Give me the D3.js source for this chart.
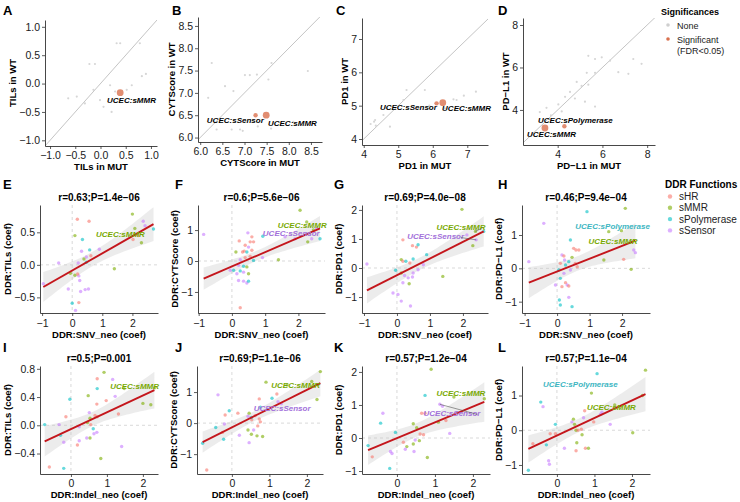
<!DOCTYPE html>
<html><head><meta charset="utf-8">
<script src="https://cdn.jsdelivr.net/npm/d3@7"></script>
<style>body{margin:0;background:#fff}svg text{font-family:"Liberation Sans",Arial,Helvetica,sans-serif}</style>
</head><body><svg id="c" width="740" height="502"></svg>
<script>
// ================= DATA =================
const ddrGroups = ["sHR","sMMR","sPolymerase","sSensor"];
const ddrColors = ["#F8766D","#7CAE00","#00BFC4","#C77CFF"];
const ddrLabelColors = ["#E0655C","#78A800","#3DB6C2","#A270DA"];
const sigLevels = ["None","Significant","(FDR<0.05)"];

// ---- Row 1 (WT vs MUT) ----
const topLetters = ["A","B","C","D"];
const topXLabels = ["TILs in MUT","CYTScore in MUT","PD1 in MUT","PD\u2212L1 in MUT"];
const topYLabels = ["TILs in WT","CYTScore in WT","PD1 in WT","PD\u2212L1 in WT"];
const topTicks = [[-1,-0.5,0,0.5,1],[6,6.5,7,7.5,8,8.5],[4,5,6,7],[4,6,8]];
const topTickFmt = [".1f",".1f","d","d"];
const topXDomains = [[-1.1,1.12],[5.95,8.75],[3.95,7.6],[2.45,8.35]];
const topYDomains = [[-1.1,1.12],[5.9,8.7],[3.82,7.63],[2.35,8.33]];

const grayA = [[0.32,0.71],[0.39,0.71],[0.78,0.71],[-0.22,0.345],[-0.11,0.345],[0.82,0.13],[0.9,0.17],[-0.64,-0.26],[-0.47,-0.23],[-0.01,-0.29],[0.22,-0.5],[0.29,-0.14],[0.52,-0.11],[0.62,-0.03],[0.19,-0.03],[-0.14,-0.11],[-0.31,-0.35],[0.06,-0.41]];
const grayB = [[6.26,7.67],[7.01,7.4],[7.12,7.4],[7.28,7.41],[7.61,7.67],[8.43,7.49],[7.54,7.3],[6.75,7.04],[6.18,6.89],[6.37,6.18],[6.71,6.18],[6.9,6.18],[6.96,6.15],[6.56,7.15],[7.3,6.25],[7.6,6.2],[8.1,6.35]];
const grayC = [[7.25,5.42],[5.24,5.47],[5.77,5.47],[6.6,5.19],[6.35,4.92],[6.69,5.17],[5.15,5.17],[4.57,4.72],[4.33,4.57],[4.76,4.37],[4.66,4.92],[5.44,4.97],[4.2,4.45],[4.3,4.52],[4.35,4.4],[5.9,5.0],[6.9,5.3]];
const grayD = [[5.37,6.55],[5.67,6.4],[5.97,6.48],[6.34,6.32],[7.38,6.4],[7.75,6.17],[5.3,5.75],[5.67,5.75],[6.71,5.78],[7.16,5.7],[4.85,5.32],[5.07,5.13],[5.37,5.19],[4.55,4.85],[4.77,4.54],[5.22,4.39],[5.67,4.16],[4.18,3.93],[4.33,4.62],[4.03,4.26],[3.2,3.9],[3.5,4.1],[3.7,3.75]];
// significant points: [x, y, size(1 small / 2 big)]
const sigA = [[0.39,-0.16,2]];
const sigB = [[7.25,6.5,1],[7.49,6.5,2]];
const sigC = [[6.11,5.07,1],[6.29,5.09,2]];
const sigD = [[3.43,3.15,2],[4.3,3.23,1]];
// labels: [text, x, y]
const labA = [["UCEC:sMMR",0.13,-0.29]];
const labB = [["UCEC:sSensor",6.15,6.38],["UCEC:sMMR",7.53,6.31]];
const labC = [["UCEC:sSensor",4.47,4.96],["UCEC:sMMR",6.27,4.93]];
const labD = [["UCEC:sPolymerase",3.12,3.52],["UCEC:sMMR",2.63,2.87]];

// ---- Rows 2-3 (DDR coefficient correlations) ----
const botLetters = ["E","F","G","H","I","J","K","L"];
const botTitles = ["r=0.63;P=1.4e\u221206","r=0.6;P=5.6e\u221206","r=0.69;P=4.0e\u221208","r=0.46;P=9.4e\u221204",
                   "r=0.5;P=0.001","r=0.69;P=1.1e\u221206","r=0.57;P=1.2e\u221204","r=0.57;P=1.1e\u221204"];
const botYLabels = ["DDR:TILs (coef)","DDR:CYTScore (coef)","DDR:PD1 (coef)","DDR:PD\u2212L1 (coef)"];
const botXLabels = ["DDR:SNV_neo (coef)","DDR:Indel_neo (coef)"];
const botXTicks = [[-1,0,1,2],[-1,0,1,2],[-1,0,1,2],[-1,0,1,2],[0,1,2],[0,1,2],[0,1,2],[0,1,2]];
const botYTicks = [[-0.5,0,0.5],[-1,0,1],[-1,0,1,2],[-1,0,1],[-0.4,0,0.4,0.8],[-1,0,1],[-1,0,1,2],[-1,0,1]];
const botYFmt = [".1f","d","d","d",".1f","d","d","d"];
const botXDomains = [[-1.07,2.85],[-1.02,2.8],[-1.06,2.76],[-1.08,2.86],[-0.86,2.42],[-0.93,2.43],[-0.92,2.45],[-0.93,2.48]];
const botYDomains = [[-0.74,0.92],[-1.68,1.81],[-1.55,2.17],[-1.34,1.9],[-0.69,0.84],[-1.64,1.84],[-1.09,2.18],[-1.26,1.85]];
// linear fit [intercept, slope]
const fitIntercepts = [-0.087,-0.176,-0.248,-0.096,-0.053,-0.138,-0.007,-0.155];
const fitSlopes = [0.264,0.463,0.574,0.384,0.238,0.605,0.477,0.506];

// points: [x, y, groupIndex]
const ptsE = [[-0.96,-0.29,3],[-0.45,0.03,3],[-0.13,-0.37,3],[0,-0.59,2],[0.11,-0.70,3],[0.09,0.45,1],[0.17,0.70,0],[0.56,0.67,0],[0.34,0.39,2],[0.31,0.21,3],[0.58,0.23,2],[0.47,0.12,3],[0.47,0.04,2],[0.62,0.14,0],[0.9,0.24,3],[0.09,-0.16,1],[0.22,-0.17,3],[0.25,-0.24,3],[0.18,-0.14,0],[0.28,-0.41,3],[0.43,-0.38,3],[0.54,-0.37,3],[0.22,-0.58,0],[-0.06,-0.13,1],[1.4,-0.06,1],[2.0,0.78,1],[2.08,0.56,1],[2.02,0.39,0],[2.36,0.67,3],[2.3,0.34,1],[2.7,0.55,2],[2.42,0.6,3],[2.19,0.45,0],[0.2,0.03,3],[0.39,0.09,1]];
const ptsF = [[-0.85,0.86,3],[2.05,1.64,1],[2.25,1.26,1],[0.48,0.91,3],[0.6,0.78,0],[0.22,0.65,0],[0.55,0.62,0],[0.65,0.62,0],[0.4,0.51,0],[0.5,0.45,3],[0.32,0.29,0],[0.37,0.32,0],[0.12,0.29,1],[0.45,0.29,2],[0.6,0.35,0],[0.92,0.11,3],[1.4,0.04,1],[0.25,0.04,3],[0.4,0.11,0],[0.55,0.15,0],[0.65,0.02,2],[0.2,-0.14,3],[0.35,-0.17,2],[0.45,-0.19,1],[-0.05,-0.3,3],[0.05,-0.3,2],[0.25,-0.32,2],[0.35,-0.36,3],[0.15,-0.41,3],[0.5,-0.41,1],[0.2,-0.63,3],[0.35,-0.65,3],[0.45,-0.71,3],[0.5,-0.65,2],[0.25,-1.51,0],[0.93,0.8,2],[1.6,0.78,3],[1.9,0.72,3],[2.28,0.62,1],[2.4,0.72,3],[2.65,0.72,2],[2.45,1.0,1],[2.55,1.05,3]];
const ptsG = [[1.97,2.02,1],[2.38,1.26,1],[2.63,1.26,2],[2.3,0.77,1],[2.12,1.14,3],[2.4,0.97,3],[0.18,0.97,0],[0.47,0.77,0],[0.59,0.72,0],[0.64,0.8,2],[0.13,0.29,1],[0.18,0.23,0],[0.27,0.23,2],[0.39,0.17,0],[0.49,0.31,2],[0.9,0.46,2],[0.8,0.11,3],[0.64,-0.06,3],[-0.04,-0.08,2],[0.13,-0.17,1],[0.23,-0.26,3],[0.34,-0.34,3],[0.47,-0.31,3],[0.37,-0.54,1],[0.18,-0.51,3],[-0.12,-0.86,3],[0.03,-0.91,3],[0.13,-1.14,3],[0.41,-1.31,3],[1.39,-0.29,1],[0.49,-0.17,3],[-0.91,0.14,3]];
const ptsH = [[0.92,1.7,2],[2.1,1.8,1],[1.59,1.1,1],[1.98,1.13,1],[0.41,0.85,2],[0.51,0.6,0],[0.58,0.55,0],[0.67,0.55,0],[0.15,0.4,3],[0.21,0.37,0],[0.46,0.33,1],[0.23,0.25,3],[0.36,0.2,2],[0.56,0.15,0],[0.62,0.05,0],[0.41,-0.05,3],[0.1,0.15,0],[0.26,0.1,2],[0.05,-0.05,2],[0.21,-0.15,3],[0.1,-0.3,2],[0.26,-0.43,0],[0.31,-0.5,3],[0.36,-0.53,0],[0.15,-0.55,0],[0.36,-0.87,3],[0.07,-0.95,2],[0.1,-1.1,2],[0.46,-1.15,2],[1.44,0.25,1],[2.05,0.27,0],[2.28,-0.03,1],[2.36,0.55,3],[2.41,0.47,3],[-0.41,1.35,3],[-0.87,0.2,3],[-0.05,-0.5,3]];
const ptsI = [[-0.73,0.01,2],[-0.6,-0.59,0],[-0.2,-0.61,2],[-0.33,0.01,3],[-0.03,0.37,2],[-0.14,0.12,0],[-0.29,-0.14,2],[-0.2,-0.24,3],[0.23,-0.02,3],[0.23,-0.22,3],[0.18,-0.28,0],[0.48,0.42,1],[0.72,0.3,0],[0.73,0.66,0],[0.73,0.52,2],[0.92,0.75,1],[0.98,0.35,0],[1.23,0.41,3],[1.16,0.65,3],[1.48,0.52,1],[2.32,0.53,1],[2.0,0.31,1],[2.22,0.29,1],[1.32,0.16,0],[0.51,0.18,3],[0.53,0.1,1],[0.67,0.14,0],[0.73,0.12,0],[0.46,0.04,1],[0.55,0.01,0],[0.62,-0.05,2],[0.72,-0.1,3],[0.44,-0.18,3],[0.53,-0.18,1],[0.64,-0.12,3],[1.41,-0.3,3],[0.83,-0.47,1]];
const ptsJ = [[-0.78,-0.65,2],[-0.67,-1.51,0],[-0.43,-0.14,2],[-0.37,0.91,3],[-0.2,-0.03,3],[-0.18,0.26,0],[-0.22,-0.52,2],[-0.25,-0.3,0],[-0.07,0.4,2],[0.16,0.32,0],[0.2,-0.39,3],[0.43,0.22,3],[0.46,0.32,1],[0.46,-0.63,3],[0.43,-0.22,1],[0.58,-0.22,3],[0.52,-0.36,1],[0.67,-0.41,1],[0.82,-0.43,1],[0.53,0.11,0],[0.62,0.24,0],[0.73,0.13,0],[0.76,0.04,0],[0.69,-0.09,0],[0.52,0.18,2],[0.73,0.78,0],[0.91,1.32,1],[1.07,0.8,2],[1.2,0.94,0],[1.23,0.69,3],[1.32,0.62,3],[1.47,1.23,1],[2.27,0.76,1],[2.36,1.66,1],[2.13,1.34,1],[0.76,0.51,2]];
const ptsK = [[0.9,2.08,1],[0.74,1.29,2],[1.5,1.24,1],[2.3,1.19,1],[1.13,1.02,3],[1.2,0.96,3],[-0.37,0.75,3],[-0.43,0.45,2],[0.65,0.75,0],[0.74,0.75,0],[1.29,0.53,0],[1.39,0.14,3],[1.09,0.48,1],[0.43,0.43,1],[0.52,0.31,1],[-0.04,0.17,2],[0.17,-0.13,0],[0.26,-0.26,1],[0.43,-0.18,1],[0.48,-0.06,3],[0.61,0.12,0],[0.7,0.1,0],[0.59,-0.08,1],[-0.17,-0.41,3],[-0.13,-0.47,3],[0.22,-0.34,3],[0.45,-0.41,3],[0.8,-0.59,1],[-0.19,-0.92,2],[-0.76,-0.23,2],[-0.65,-0.57,0]];
const ptsL = [[1.07,1.63,2],[2.36,1.73,1],[0.92,1.07,1],[1.54,0.73,1],[2.28,1.0,1],[2.02,-0.07,1],[1.42,0.17,3],[1.2,0.52,3],[1.16,0.46,3],[0.98,0.24,0],[0.71,0.36,3],[0.74,0.56,0],[0.4,0.24,3],[0.44,0.32,1],[0.47,0.17,1],[0.51,0,1],[0.56,0,0],[0.65,0.03,0],[0.67,-0.13,1],[0.53,-0.36,1],[0.2,-0.52,3],[0.51,-0.59,0],[0.76,-0.52,0],[0.84,-0.52,1],[-0.04,-0.1,0],[-0.43,0.81,2],[-0.37,0.68,3],[-0.04,0.17,2],[-0.18,-0.1,0],[-0.28,-0.42,2],[-0.22,-0.88,3],[-0.2,-0.98,3],[-0.76,-1.15,2],[-0.64,-0.39,0]];
// labels: [text, x, y, groupIndex, targetX, targetY]
const labE = [["UCEC:sMMR",0.79,0.47,1]];
const labF = [["UCEC:sMMR",1.38,1.16,1],["UCEC:sSensor",0.93,0.89,3]];
const labG = [["UCEC:sMMR",1.2,1.41,1,2.38,1.26],["UCEC:sSensor",0.31,1.09,3,2.4,0.97]];
const labH = [["UCEC:sPolymerase",0.56,1.25,2],["UCEC:sMMR",0.97,0.8,1]];
const labI = [["UCEC:sMMR",1.09,0.56,1]];
const labJ = [["UCEC:sMMR",1.05,1.21,1],["UCEC:sSensor",0.58,0.48,3]];
const labK = [["UCEC:sMMR",1.04,1.36,1],["UCEC:sSensor",0.7,0.75,3,1.13,1.02]];
const labL = [["UCEC:sPolymerase",-0.37,1.34,2],["UCEC:sMMR",0.8,0.65,1]];

// ================= DRAWING =================
const svg = d3.select("#c");
const AXC = "#333", TXC = "#1a1a1a";
const TICKFS = 10.5, TITLEFS = 9.5;
let clipN = 0;

function addClip(x0,x1,y0,y1){
  const id = "cl"+(clipN++);
  svg.append("clipPath").attr("id",id).append("rect").attr("x",x0).attr("y",y0).attr("width",x1-x0).attr("height",y1-y0);
  return "url(#"+id+")";
}

function styleAxis(a, fs){
  a.select(".domain").attr("stroke",AXC).attr("stroke-width",0.9);
  a.selectAll(".tick line").attr("stroke",AXC).attr("stroke-width",0.8);
  a.selectAll(".tick text").attr("fill",TXC).style("font-size",fs+"px").style("font-family",'"Liberation Sans",Arial,sans-serif');
}

function axes(g, x, y, box, xt, yt, xf, yf, xlab, ylab, pad){
  const [x0,x1,y0,y1] = box;
  const ax = g.append("g").attr("transform",`translate(0,${y1})`)
    .call(d3.axisBottom(x).tickValues(xt).tickFormat(d3.format(xf)).tickSize(3).tickSizeOuter(0).tickPadding(pad));
  styleAxis(ax, TICKFS);
  const ay = g.append("g").attr("transform",`translate(${x0},0)`)
    .call(d3.axisLeft(y).tickValues(yt).tickFormat(d3.format(yf)).tickSize(3).tickSizeOuter(0).tickPadding(2));
  styleAxis(ay, TICKFS);
  const bb = ay.node().getBBox();
  const bx = ax.node().getBBox();
  g.append("text").attr("x",(x0+x1)/2).attr("y",y1+bx.y+bx.height+9).attr("text-anchor","middle")
    .style("font-size",TITLEFS+"px").style("font-weight","bold").attr("fill","#000").text(xlab);
  g.append("text").attr("transform",`translate(${x0+bb.x-3},${(y0+y1)/2}) rotate(-90)`).attr("text-anchor","middle")
    .style("font-size",TITLEFS+"px").style("font-weight","bold").attr("fill","#000").text(ylab);
}

function letter(t, x, y){
  svg.append("text").attr("x",x).attr("y",y).style("font-size","13px").style("font-weight","bold").attr("fill","#000").text(t);
}

// ---- Row 1 ----
const topBoxes = [[45,157,20,146],[198,322,17,142],[362,488,18,145],[523,655,18,145]];
const topGray = [grayA,grayB,grayC,grayD];
const topSig = [sigA,sigB,sigC,sigD];
const topLab = [labA,labB,labC,labD];
const letterX = [3,172,336,498];

topBoxes.forEach((box,i)=>{
  const [x0,x1,y0,y1] = box;
  const x = d3.scaleLinear().domain(topXDomains[i]).range([x0,x1]);
  const y = d3.scaleLinear().domain(topYDomains[i]).range([y1,y0]);
  const g = svg.append("g");
  const cp = addClip(x0,x1,y0,y1);
  const lo = Math.min(topXDomains[i][0],topYDomains[i][0]), hi = Math.max(topXDomains[i][1],topYDomains[i][1]);
  g.append("line").attr("clip-path",cp).attr("x1",x(lo)).attr("y1",y(lo)).attr("x2",x(hi)).attr("y2",y(hi))
    .attr("stroke","#bdbdbd").attr("stroke-width",0.9);
  g.append("g").selectAll("circle").data(topGray[i]).join("circle")
    .attr("cx",d=>x(d[0])).attr("cy",d=>y(d[1])).attr("r",1.1).attr("fill","#d6d6d6");
  g.append("g").selectAll("circle").data(topSig[i]).join("circle")
    .attr("cx",d=>x(d[0])).attr("cy",d=>y(d[1])).attr("r",d=>d[2]===2?3.4:2.2)
    .attr("fill","#D9714E").attr("fill-opacity",0.8);
  g.append("g").selectAll("text").data(topLab[i]).join("text")
    .attr("x",d=>x(d[1])).attr("y",d=>y(d[2])).attr("dy","0.35em")
    .style("font-size","8px").style("font-weight","bold").style("font-style","italic").attr("fill","#000").text(d=>d[0]);
  axes(g,x,y,box,topTicks[i],topTicks[i],topTickFmt[i],topTickFmt[i],topXLabels[i],topYLabels[i],3);
  letter(topLetters[i], letterX[i], 15);
});

// ---- Rows 2-3 ----
const botBoxes = [[40,158,205,313],[198,325,205,313],[362,488,205,313],[522,650,205,313],
                  [40,158,366,474],[197,323,366,474],[362,490,366,474],[522,650,366,474]];
const botPts = [ptsE,ptsF,ptsG,ptsH,ptsI,ptsJ,ptsK,ptsL];
const botLab = [labE,labF,labG,labH,labI,labJ,labK,labL];

botBoxes.forEach((box,i)=>{
  const [x0,x1,y0,y1] = box;
  const x = d3.scaleLinear().domain(botXDomains[i]).range([x0,x1]);
  const y = d3.scaleLinear().domain(botYDomains[i]).range([y1,y0]);
  const g = svg.append("g");
  const cp = addClip(x0,x1,y0,y1);
  // zero reference lines
  g.append("line").attr("x1",x(0)).attr("x2",x(0)).attr("y1",y0).attr("y2",y1)
    .attr("stroke","#cfcfcf").attr("stroke-width",0.8).attr("stroke-dasharray","3,3");
  g.append("line").attr("x1",x0).attr("x2",x1).attr("y1",y(0)).attr("y2",y(0))
    .attr("stroke","#cfcfcf").attr("stroke-width",0.8).attr("stroke-dasharray","3,3");
  // fit & confidence band
  const pts = botPts[i], a = fitIntercepts[i], b = fitSlopes[i];
  const n = pts.length, xbar = d3.mean(pts,d=>d[0]);
  const sxx = d3.sum(pts,d=>(d[0]-xbar)**2);
  const s = Math.sqrt(d3.sum(pts,d=>(d[1]-(a+b*d[0]))**2)/(n-2));
  const [xmin,xmax] = d3.extent(pts,d=>d[0]);
  const xs = d3.range(0,41).map(k=>xmin+(xmax-xmin)*k/40);
  const band = xs.map(v=>{const se=2.02*s*Math.sqrt(1/n+(v-xbar)**2/sxx); const m=a+b*v; return [v,m-se,m+se];});
  g.append("path").attr("clip-path",cp).datum(band)
    .attr("d",d3.area().x(d=>x(d[0])).y0(d=>y(d[1])).y1(d=>y(d[2])))
    .attr("fill","#c4c4c4").attr("fill-opacity",0.33);
  // points
  g.append("g").selectAll("circle").data(pts).join("circle")
    .attr("cx",d=>x(d[0])).attr("cy",d=>y(d[1])).attr("r",1.7)
    .attr("fill",d=>ddrColors[d[2]]).attr("fill-opacity",0.6);
  g.append("line").attr("x1",x(xmin)).attr("y1",y(a+b*xmin)).attr("x2",x(xmax)).attr("y2",y(a+b*xmax))
    .attr("stroke","#C4161C").attr("stroke-width",1.9);
  // labels
  botLab[i].forEach(d=>{
    const t = g.append("text").attr("x",x(d[1])).attr("y",y(d[2])).attr("dy","0.35em")
      .style("font-size","8px").style("font-weight","bold").style("font-style","italic")
      .attr("fill",ddrLabelColors[d[3]]).text(d[0]);
    if(d.length>4){
      const bb = t.node().getBBox();
      g.append("line").attr("x1",bb.x+bb.width-4).attr("y1",bb.y+bb.height*0.6)
        .attr("x2",x(d[4])).attr("y2",y(d[5])).attr("stroke","#555").attr("stroke-width",0.6);
    }
  });
  axes(g,x,y,box,botXTicks[i],botYTicks[i],"d",botYFmt[i],botXLabels[i<4?0:1],botYLabels[i%4],i<4?4:3);
  g.append("text").attr("x",(x0+x1)/2).attr("y",y0-4).attr("text-anchor","middle")
    .style("font-size","10px").style("font-weight","bold").attr("fill","#000").text(botTitles[i]);
  letter(botLetters[i], [3,175,334,498][i%4], i<4?189:352);
});

// ---- Legends ----
const lg1 = svg.append("g");
lg1.append("text").attr("x",661).attr("y",15).style("font-size","9px").style("font-weight","bold").text("Significances");
lg1.append("circle").attr("cx",668).attr("cy",25).attr("r",1.8).attr("fill","#cfcfcf");
lg1.append("text").attr("x",677).attr("y",28.5).style("font-size","9px").attr("fill","#222").text(sigLevels[0]);
lg1.append("circle").attr("cx",668).attr("cy",39).attr("r",1.8).attr("fill","#D9714E");
lg1.append("text").attr("x",677).attr("y",42.5).style("font-size","9px").attr("fill","#222").text(sigLevels[1]);
lg1.append("text").attr("x",677).attr("y",53.5).style("font-size","9px").attr("fill","#222").text(sigLevels[2]);

const lg2 = svg.append("g");
lg2.append("text").attr("x",665).attr("y",188).style("font-size","10px").style("font-weight","bold").text("DDR Functions");
lg2.selectAll("circle").data(ddrGroups).join("circle")
  .attr("cx",670).attr("cy",(d,i)=>196.5+i*11.3).attr("r",2.2).attr("fill",(d,i)=>ddrColors[i]).attr("fill-opacity",0.6);
lg2.selectAll("text.it").data(ddrGroups).join("text").attr("class","it")
  .attr("x",679).attr("y",(d,i)=>200+i*11.3).style("font-size","10px").attr("fill","#222").text(d=>d);
</script></body></html>
